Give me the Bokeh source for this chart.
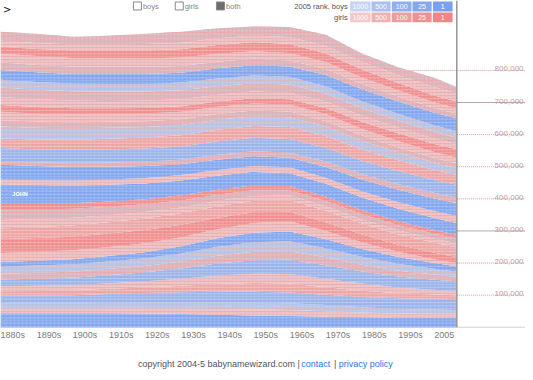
import numpy as np
from bokeh.plotting import figure
from bokeh.models import ColumnDataSource, Range1d
from bokeh.core.properties import value
from bokeh.embed import file_html
from bokeh.resources import INLINE

# ---------------- data (thousands of babies per year, stacked bottom -> top) ----------------
years = [1880, 1890, 1900, 1910, 1920, 1930, 1940, 1950, 1960, 1970, 1980, 1990, 2000, 2006]

b01 = [44, 44, 44, 44, 43, 41, 39, 37, 35, 33, 31, 30, 30, 30]
b02a = [14, 14, 14, 15, 16, 17, 18, 19, 19, 17, 15, 13, 12, 12]
b02b = [16, 16, 16, 17, 18, 19, 20, 21, 21, 19, 16, 14, 13, 12]
b03 = [24, 25, 26, 28, 30, 32, 34, 34, 33, 32, 32, 33, 34, 34]
b04a = [14, 14, 15, 16, 17, 20, 24, 27, 28, 24, 20, 16, 13, 12]
b04b = [16, 16, 16, 17, 19, 22, 26, 29, 30, 26, 22, 18, 15, 13]
b05 = [21, 22, 23, 25, 28, 32, 38, 42, 44, 42, 38, 34, 31, 30]
b06a = [18, 19, 19, 20, 20, 22, 24, 26, 27, 25, 21, 18, 16, 14]
b06b = [22, 22, 23, 23, 24, 25, 28, 30, 31, 28, 25, 22, 18, 17]
b07 = [14, 15, 16, 17, 19, 22, 26, 29, 30, 28, 24, 21, 18, 16]
b08 = [28, 28, 28, 28, 28, 28, 28, 31, 32, 26, 21, 16, 12, 10]
b09 = [43, 43, 42, 42, 41, 39, 36, 33, 30, 27, 24, 22, 20, 19]
b10 = [34, 34, 35, 35, 36, 36, 36, 36, 36, 36, 34, 32, 31, 30]
b11a = [26, 25, 24, 22, 20, 18, 17, 15, 14, 14, 13, 13, 13, 13]
b11b = [32, 30, 28, 26, 24, 22, 19, 18, 16, 16, 16, 16, 15, 15]
b12 = [18, 18, 17, 17, 16, 16, 15, 15, 14, 14, 13, 13, 12, 12]
john = [61, 58, 55, 52, 49, 46, 44, 42, 40, 40, 39, 38, 37, 36]
b14 = [15, 15, 16, 16, 17, 17, 18, 18, 18, 19, 20, 21, 22, 22]
b15 = [46, 44, 42, 40, 37, 34, 32, 31, 30, 33, 36, 38, 39, 40]
b16 = [12, 12, 13, 13, 14, 14, 15, 15, 16, 17, 17, 18, 18, 18]
b17 = [40, 40, 40, 41, 41, 41, 42, 42, 42, 43, 42, 41, 40, 40]
b18 = [30, 31, 32, 33, 34, 35, 36, 37, 38, 37, 35, 33, 31, 30]
b19 = [37, 36, 35, 34, 33, 32, 31, 30, 30, 29, 27, 25, 23, 22]
b20a = [20, 20, 19, 19, 18, 18, 18, 18, 18, 17, 16, 15, 14, 14]
b20b = [26, 25, 25, 24, 24, 23, 23, 22, 22, 22, 21, 20, 19, 18]
b21 = [21, 20, 19, 18, 17, 17, 16, 16, 16, 19, 22, 24, 25, 26]
b22a = [25, 24, 24, 23, 23, 22, 21, 21, 20, 20, 19, 18, 17, 16]
b22b = [30, 30, 29, 29, 28, 28, 27, 26, 26, 25, 23, 22, 21, 20]
b23 = [24, 24, 24, 24, 24, 24, 24, 24, 24, 23, 22, 21, 20, 20]
b24 = [30, 30, 30, 31, 31, 31, 32, 32, 32, 35, 37, 38, 39, 40]
b25a = [24, 23, 23, 22, 22, 21, 20, 20, 19, 18, 17, 16, 15, 15]
b25b = [28, 28, 27, 27, 26, 26, 25, 24, 23, 22, 20, 19, 18, 17]
b26 = [21, 22, 23, 24, 25, 26, 27, 28, 28, 27, 25, 23, 21, 20]
b27 = [18, 18, 19, 19, 20, 20, 21, 21, 22, 23, 24, 25, 26, 26]
b28 = [28, 29, 24, 27, 32, 34, 31, 28, 31, 35, 26, 24, 29, 20]

decade_years = [1880, 1890, 1900, 1910, 1920, 1930, 1940, 1950, 1960, 1970, 1980, 1990, 2000]
decade_labels = ["1880s", "1890s", "1900s", "1910s", "1920s", "1930s", "1940s", "1950s",
                 "1960s", "1970s", "1980s", "1990s", "2005"]

grid_values = [100, 200, 300, 400, 500, 600, 700, 800]
grid_labels = ["100,000", "200,000", "300,000", "400,000", "500,000", "600,000", "700,000", "800,000"]

rank_labels = ["1000", "500", "100", "25", "1"]

# ---------------- styling ----------------
BLUE = "#85a8ef"
BLUE_MID = "#9bb4ea"
BLUE_LIGHT = "#b8c5e6"
PINK = "#f09090"
PINK_MID = "#eda6a6"
PINK_LIGHT = "#f1bfbf"
GRAY_PINK = "#dab6be"

STRIPE = {BLUE: "#9ab6f2", BLUE_MID: "#b3c6ee", BLUE_LIGHT: "#d9bcc4", PINK: "#f3a6a6",
          PINK_MID: "#f2bcbc", PINK_LIGHT: "#dcb0b8", GRAY_PINK: "#eeaaaa"}

# (name, values, fill colour) bottom -> top
layers = [
    ("b01", b01, BLUE), ("b02a", b02a, PINK_LIGHT), ("b02b", b02b, BLUE_LIGHT),
    ("b03", b03, BLUE_MID), ("b04a", b04a, PINK_MID), ("b04b", b04b, PINK_LIGHT),
    ("b05", b05, BLUE_MID), ("b06a", b06a, GRAY_PINK), ("b06b", b06b, BLUE_LIGHT),
    ("b07", b07, BLUE), ("b08", b08, PINK_LIGHT), ("b09", b09, PINK),
    ("b10", b10, PINK_MID), ("b11a", b11a, PINK_LIGHT), ("b11b", b11b, GRAY_PINK),
    ("b12", b12, PINK), ("john", john, BLUE), ("b14", b14, PINK_LIGHT),
    ("b15", b15, BLUE), ("b16", b16, GRAY_PINK), ("b17", b17, BLUE_MID),
    ("b18", b18, PINK_MID), ("b19", b19, BLUE_LIGHT), ("b20a", b20a, GRAY_PINK),
    ("b20b", b20b, PINK_LIGHT), ("b21", b21, PINK), ("b22a", b22a, PINK_LIGHT),
    ("b22b", b22b, GRAY_PINK), ("b23", b23, BLUE_LIGHT), ("b24", b24, BLUE),
    ("b25a", b25a, GRAY_PINK), ("b25b", b25b, PINK_LIGHT), ("b26", b26, PINK),
    ("b27", b27, PINK_LIGHT), ("b28", b28, GRAY_PINK),
]

boys_rank_colors = ["#c4d4f6", "#a9c0f1", "#8eaff0", "#84a8ee", "#7aa1ee"]
girls_rank_colors = ["#f4c8c8", "#f0b0b0", "#ee9c9c", "#ee9191", "#ee8686"]

PX_PER_YEAR = 3.67


def X(rx):
    return 1880 + rx / PX_PER_YEAR


def Y(ry):
    return (333.8 - ry) * 3.0488


W, H = 525, 372
p = figure(width=W, height=H, x_range=Range1d(X(0), X(533)), y_range=Range1d(Y(380), Y(0)),
           output_backend="svg", toolbar_location=None, min_border=0,
           x_axis_location=None, y_axis_location=None, outline_line_color=None)
p.grid.visible = False
p.background_fill_color = "white"
p.border_fill_color = "white"

FONT = value("Liberation Sans")

# gridlines in the right-hand panel (the 800,000 line also shows above the area's tail)
grid_start = [X(410) if v == 800 else X(463.3) for v in grid_values]
solid_idx = [i for i, v in enumerate(grid_values) if v in (300, 700)]
dot_idx = [i for i, v in enumerate(grid_values) if v not in (300, 700)]
p.segment(x0=[grid_start[i] for i in dot_idx], x1=X(533), y0=[grid_values[i] for i in dot_idx],
          y1=[grid_values[i] for i in dot_idx], line_color="#d49a9a", line_width=1,
          line_dash="1 1", level="underlay")
p.segment(x0=[grid_start[i] for i in solid_idx], x1=X(533), y0=[grid_values[i] for i in solid_idx],
          y1=[grid_values[i] for i in solid_idx], line_color="#bba6a6", line_width=1, level="underlay")
p.segment(x0=X(0), x1=X(533), y0=0, y1=0, line_color="#a8a8a8", line_width=1, line_dash="1 1",
          level="underlay")

# stacked areas
keys = [l[0] for l in layers]
src = ColumnDataSource(dict(year=years, **{l[0]: l[1] for l in layers}))
p.varea_stack(stackers=keys, x="year", source=src, fill_color=[l[2] for l in layers],
              hatch_pattern="horizontal_line", hatch_color=[STRIPE[l[2]] for l in layers],
              hatch_alpha=0.8, hatch_scale=3.0, hatch_weight=1)
p.varea_stack(stackers=keys, x="year", source=src, fill_alpha=0,
              hatch_pattern="dot", hatch_color="white", hatch_alpha=0.22, hatch_scale=4.0)

# John label
j = keys.index("john")
cum0 = np.cumsum([l[1][0] for l in layers])
p.text(x=[X(12)], y=[cum0[j - 1] + john[0] / 2], text=["JOHN"],
       text_font=FONT, text_font_size="5.5px", text_font_style="bold", text_color="white",
       text_align="left", text_baseline="middle")

# divider
p.segment(x0=X(463.3), x1=X(463.3), y0=0, y1=Y(0), line_color="#7a7a7a", line_width=1.2)

# right-side value labels
p.text(x=[X(531)] * len(grid_values), y=grid_values, text=grid_labels, text_font=FONT,
       text_font_size="8px", text_color="#c49c9c", text_align="right", text_baseline="alphabetic",
       y_offset=-1.5)

# decade labels
p.text(x=decade_years, y=[Y(342)] * len(decade_years), text=decade_labels, text_font=FONT,
       text_font_size="9px", text_color="#7c7c7c", text_align="left", text_baseline="middle")

# copyright line
p.text(x=[X(139.5), X(305.4), X(338.5), X(343.5)], y=[Y(371)] * 4,
       text=["copyright 2004-5 babynamewizard.com |", "contact", "|", "privacy policy"],
       text_font=FONT, text_font_size="9px",
       text_color=["#4c5566", "#2b78e4", "#4c5566", "#2b78e4"],
       text_align="left", text_baseline="middle")

# top-left chevron
p.text(x=[X(2.5)], y=[Y(9)], text=[">"], text_font=value("DejaVu Sans"), text_font_size="10px",
       text_color="#111111", text_align="left", text_baseline="middle")

# checkboxes
p.scatter(x=[X(139), X(181.5)], y=[Y(5.6)] * 2, marker="square", size=8,
          fill_color="white", line_color="#8a8a8a")
p.scatter(x=[X(223.3)], y=[Y(5.6)], marker="square", size=8, fill_color="#6c6c6c", line_color="#8a8a8a")
p.text(x=[X(144.6), X(187), X(229)], y=[Y(5.8)] * 3, text=["boys", "girls", "both"],
       text_font=FONT, text_font_size="7.5px", text_color="#858585",
       text_align="left", text_baseline="middle")

# rank legend
p.text(x=[X(352.5), X(352.5)], y=[Y(6.3), Y(17.3)], text=["2005 rank, boys", "girls"],
       text_font=FONT, text_font_size="7.5px", text_color="#555555",
       text_align="right", text_baseline="middle")
lefts = [355, 376.7, 397.3, 418.3, 439]
rights = [375.7, 396, 417.3, 437.7, 459]
p.quad(left=[X(l) for l in lefts], right=[X(r) for r in rights], top=Y(1), bottom=Y(11.3),
       fill_color=boys_rank_colors, line_color=None)
p.quad(left=[X(l) for l in lefts], right=[X(r) for r in rights], top=Y(12.3), bottom=Y(22.3),
       fill_color=girls_rank_colors, line_color=None)
centers = [X((l + r) / 2) for l, r in zip(lefts, rights)]
p.text(x=centers + centers, y=[Y(6.3)] * 5 + [Y(17.3)] * 5, text=rank_labels + rank_labels,
       text_font=FONT, text_font_size="7px", text_color="white",
       text_align="center", text_baseline="middle")

open("out.html", "w").write(file_html(p, INLINE))
